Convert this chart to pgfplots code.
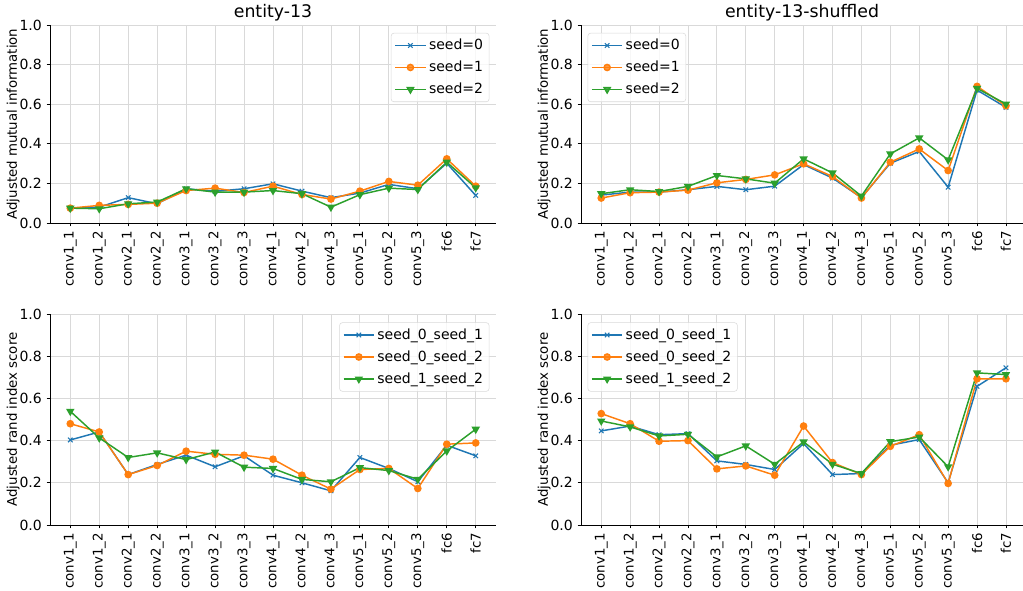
\documentclass[border=0pt]{standalone}
\usepackage{pgfplots}
\pgfplotsset{compat=1.18}
\usepackage{pgfplotstable}
\usepackage{fontspec}
\setmainfont{DejaVu Sans}
\definecolor{tabblue}{HTML}{1F77B4}
\definecolor{taborange}{HTML}{FF7F0E}
\definecolor{tabgreen}{HTML}{2CA02C}
\definecolor{gridgray}{HTML}{D9D9D9}

\pgfplotstableread{
x s0 s1 s2
0 0.075 0.075 0.075
1 0.080 0.089 0.072
2 0.128 0.094 0.097
3 0.097 0.100 0.106
4 0.173 0.164 0.173
5 0.160 0.176 0.156
6 0.173 0.154 0.156
7 0.198 0.186 0.164
8 0.161 0.144 0.148
9 0.128 0.121 0.080
10 0.151 0.161 0.143
11 0.195 0.210 0.176
12 0.173 0.191 0.169
13 0.302 0.324 0.307
14 0.139 0.186 0.178
}\tabTL
\pgfplotstableread{
x s0 s1 s2
0 0.141 0.126 0.148
1 0.156 0.153 0.168
2 0.156 0.156 0.159
3 0.168 0.166 0.185
4 0.185 0.203 0.240
5 0.168 0.220 0.223
6 0.186 0.243 0.201
7 0.295 0.299 0.324
8 0.227 0.235 0.253
9 0.128 0.126 0.136
10 0.302 0.307 0.349
11 0.361 0.374 0.430
12 0.181 0.265 0.319
13 0.671 0.690 0.680
14 0.584 0.592 0.601
}\tabTR
\pgfplotstableread{
x s0 s1 s2
0 0.403 0.480 0.539
1 0.441 0.441 0.413
2 0.239 0.239 0.320
3 0.287 0.282 0.342
4 0.331 0.350 0.310
5 0.276 0.335 0.346
6 0.328 0.331 0.274
7 0.236 0.312 0.268
8 0.200 0.236 0.216
9 0.162 0.170 0.205
10 0.320 0.263 0.272
11 0.268 0.268 0.258
12 0.205 0.173 0.217
13 0.378 0.383 0.351
14 0.328 0.389 0.454
}\tabBL
\pgfplotstableread{
x s0 s1 s2
0 0.446 0.528 0.493
1 0.469 0.480 0.465
2 0.428 0.397 0.422
3 0.433 0.400 0.430
4 0.304 0.266 0.323
5 0.287 0.280 0.375
6 0.263 0.236 0.288
7 0.386 0.469 0.394
8 0.239 0.296 0.288
9 0.244 0.239 0.244
10 0.378 0.373 0.395
11 0.405 0.428 0.417
12 0.200 0.197 0.276
13 0.657 0.693 0.721
14 0.745 0.693 0.713
}\tabBR

\pgfplotsset{
  panel/.style={
    scale only axis,
    xmin=-0.7, ymin=0, ymax=1,
    axis x line*=bottom, axis y line*=left,
    axis line style={black, line width=0.6pt},
    tick align=outside, major tick length=2.6pt,
    tick style={black, line width=0.6pt},
    xtick={0,...,14},
    xticklabels={conv1\_1,conv1\_2,conv2\_1,conv2\_2,conv3\_1,conv3\_2,conv3\_3,conv4\_1,conv4\_2,conv4\_3,conv5\_1,conv5\_2,conv5\_3,fc6,fc7},
    xticklabel style={rotate=90, anchor=east, font=\fontsize{10}{12}\selectfont},
    ytick={0,0.2,...,1.0},
    yticklabel style={font=\fontsize{10.5}{12}\selectfont},
    /pgf/number format/assume math mode=true,
    /pgf/number format/.cd, fixed, fixed zerofill, precision=1, /pgfplots/.cd,
    grid=major, major grid style={gridgray, line width=0.6pt},
    ylabel near ticks,
    ylabel style={font=\fontsize{10}{12}\selectfont, yshift=-7pt},
    every axis title/.style={font=\fontsize{13}{15}\selectfont, at={(0.5,1)}, anchor=base, yshift=5.5pt},
    legend cell align=left,
    legend style={font=\fontsize{10.5}{12}\selectfont, draw=gridgray, rounded corners=2pt,
      fill=white, fill opacity=0.8, text opacity=1, inner sep=2.5pt, row sep=3pt},
    legend image code/.code={\draw[mark repeat=2,mark phase=2] plot coordinates {(0cm,0cm) (0.4cm,0cm) (0.8cm,0cm)};},
  },
  sblue/.style={tabblue, line width=1.1pt, mark=x, mark size=2.4pt, mark options={line width=0.8pt}},
  sorange/.style={taborange, line width=1.1pt, mark=*, mark size=2.3pt, mark options={draw=taborange, fill=taborange}},
  sgreen/.style={tabgreen, line width=1.1pt, mark=triangle*, mark size=2.6pt, mark options={rotate=180, draw=tabgreen, fill=tabgreen}},
}

\begin{document}
\begin{tikzpicture}
\useasboundingbox (0pt,0pt) rectangle (767.25pt,442.5pt);
% top-left
\begin{axis}[panel, at={(37.5pt,275.25pt)}, anchor=south west, width=334.5pt, height=148.5pt, xmax=14.7,
  title={entity-13}, ylabel={Adjusted mutual information},
  legend style={at={(0.985,0.96)}, anchor=north east}]
\addplot[sblue] table[x=x, y=s0] {\tabTL}; \addlegendentry{seed=0}
\addplot[sorange] table[x=x, y=s1] {\tabTL}; \addlegendentry{seed=1}
\addplot[sgreen] table[x=x, y=s2] {\tabTL}; \addlegendentry{seed=2}
\end{axis}
% top-right
\begin{axis}[panel, at={(435.75pt,275.25pt)}, anchor=south west, width=331.5pt, height=148.5pt, xmax=14.59,
  title={entity-13-shuffled}, ylabel={Adjusted mutual information},
  legend style={at={(0.015,0.96)}, anchor=north west}]
\addplot[sblue] table[x=x, y=s0] {\tabTR}; \addlegendentry{seed=0}
\addplot[sorange] table[x=x, y=s1] {\tabTR}; \addlegendentry{seed=1}
\addplot[sgreen] table[x=x, y=s2] {\tabTR}; \addlegendentry{seed=2}
\end{axis}
% bottom-left
\begin{axis}[panel, at={(37.5pt,48.75pt)}, anchor=south west, width=334.5pt, height=158.25pt, xmax=14.7,
  ylabel={Adjusted rand index score},
  legend style={at={(0.985,0.96)}, anchor=north east}]
\addplot[sblue] table[x=x, y=s0] {\tabBL}; \addlegendentry{seed\_0\_seed\_1}
\addplot[sorange] table[x=x, y=s1] {\tabBL}; \addlegendentry{seed\_0\_seed\_2}
\addplot[sgreen] table[x=x, y=s2] {\tabBL}; \addlegendentry{seed\_1\_seed\_2}
\end{axis}
% bottom-right
\begin{axis}[panel, at={(435.75pt,48.75pt)}, anchor=south west, width=331.5pt, height=158.25pt, xmax=14.59,
  ylabel={Adjusted rand index score},
  legend style={at={(0.015,0.96)}, anchor=north west}]
\addplot[sblue] table[x=x, y=s0] {\tabBR}; \addlegendentry{seed\_0\_seed\_1}
\addplot[sorange] table[x=x, y=s1] {\tabBR}; \addlegendentry{seed\_0\_seed\_2}
\addplot[sgreen] table[x=x, y=s2] {\tabBR}; \addlegendentry{seed\_1\_seed\_2}
\end{axis}
\end{tikzpicture}
\end{document}
